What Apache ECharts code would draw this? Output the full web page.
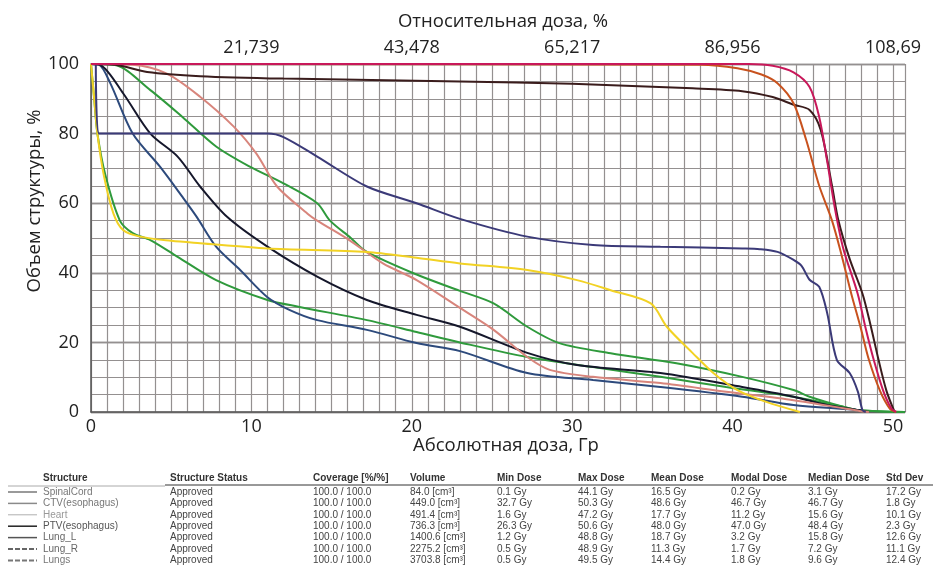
<!DOCTYPE html>
<html><head><meta charset="utf-8">
<script src="https://cdn.jsdelivr.net/npm/echarts@6/dist/echarts.min.js"></script>
<style>html,body{margin:0;padding:0;background:#fff}#c{width:933px;height:573px}</style>
</head><body><div id="c"></div>
<script>
// ---- axis ticks ----
const xTicks = [0, 10, 20, 30, 40, 50];
const topLabels = ['', '21,739', '43,478', '65,217', '86,956', '108,69'];

// ---- DVH curves [dose Gy, volume %] ----
const curveMagenta = [[0,100],[41,100],[42.5,99.5],[43.8,97.6],[44.8,93.4],[45.4,84.8],[45.9,72],[46.4,58],[46.9,47],[47.8,34],[48.3,24],[48.8,15],[49.4,6],[49.9,1],[50.2,0]];
const curveOrange = [[0,100],[38,99.8],[40.3,98.8],[41.8,97],[42.8,94.5],[43.8,88.7],[44.6,78],[45.4,65],[46.2,55],[46.8,45],[47.4,34],[48,24],[48.5,15],[49.2,6],[49.8,1],[50.2,0]];
const curveDark = [[0,100],[1.5,99.8],[3.5,97.7],[6.8,96.5],[12,95.8],[23,95],[30,94.3],[37.5,93],[40.6,92.2],[42.5,90.5],[43.8,88.3],[44.8,86.8],[45.5,81],[46.2,65],[46.6,55],[47.3,44],[48.1,34],[48.6,25],[49.1,15],[49.6,6],[50.1,0]];
const curveNavy = [[0.3,100],[0.5,80],[11,80],[12,79],[14.1,73.4],[17.2,64.8],[20.3,60],[23,55.5],[27.2,50.4],[31.3,48],[35.5,47.5],[40.6,47],[41.7,46.8],[42.8,46],[43.8,43.7],[44.3,42],[44.8,38],[45.4,36],[45.9,28.4],[46.5,15],[47.3,11.2],[47.8,6],[48.1,0.5],[48.3,0]];
const curveYellow = [[0,100],[0.2,90],[0.4,80],[0.8,68],[1.4,57],[2.0,52.3],[3.05,50.4],[5,49.2],[6.8,48.5],[11,47],[17.2,46],[20.3,44.3],[23,42.7],[27.2,40.8],[30.3,37.9],[32.4,35],[34.9,31.2],[35.9,24.5],[37.5,17],[38.8,11.2],[40.3,6.3],[42.1,2.9],[44.2,0]];
const curveGreenA = [[0,100],[1.5,99.7],[3.7,92.5],[5.7,84.8],[7.8,76.3],[9.9,70.5],[12,65.7],[14.1,60],[14.9,55],[16.2,50],[17.2,46],[20.3,39.5],[23,34.8],[25.1,31.2],[27.2,24.5],[29.2,19.8],[32.4,16.9],[36.5,14],[40.6,10.1],[43.8,6.3],[44.8,4.4],[46.9,1.5],[47.9,0.5],[50.75,0]];
const curveGreenB = [[0,100],[0.2,90],[0.4,80],[0.9,68],[1.8,55],[2.6,51.4],[3.7,49.4],[5.4,44.6],[7.8,37.9],[11,32.2],[13,30.2],[17.2,26.4],[20.3,23],[23,20],[27.2,15.8],[31.3,12.9],[35.5,10.1],[39.6,7.2],[43.8,4.4],[46.9,1.5],[47.9,0.5],[50.75,0]];
const curvePink = [[0,100],[2.6,99.8],[4.7,97.3],[6.8,90.6],[8.9,82],[10.3,74.3],[11.6,64.8],[13.5,57],[14.1,55],[16.1,49.4],[18.2,42.7],[20.3,37.9],[23,29.9],[25.1,23.6],[27.2,15.8],[28.6,12.1],[31.3,10.1],[35.5,8.3],[39.6,5.8],[43.8,3.4],[46.9,1.1],[47.9,0.3],[48.5,0]];
const curveBlack = [[0,100],[0.6,99.7],[2.0,91.6],[3.7,80],[5.4,73.4],[6.8,64.8],[8.5,56],[11,47.5],[14.1,38.9],[17.2,32.2],[20.3,27.9],[23,24.5],[27.2,17],[30.3,13.5],[35.5,11.2],[40.6,7.2],[43.8,4.4],[45.9,2],[47.9,0.5],[48.5,0]];
const curveBlue = [[0,100],[0.5,99.8],[1.2,94.5],[2.6,80],[4.3,70.5],[5.7,61.8],[6.6,56],[7.8,47.5],[9.3,40.8],[11,33],[12.4,29.3],[14.1,26.4],[17.2,23.6],[20.3,19.8],[23,17.5],[27.2,11.2],[31.3,9.2],[35.5,7.2],[40.6,4.4],[43.8,2],[47.9,0.5],[48.3,0]];

// ---- statistics table ----
const headers = ['Structure','Structure Status','Coverage [%/%]','Volume','Min Dose','Max Dose','Mean Dose','Modal Dose','Median Dose','Std Dev'];
const structures = ['SpinalCord','CTV(esophagus)','Heart','PTV(esophagus)','Lung_L','Lung_R','Lungs'];
const statuses = ['Approved','Approved','Approved','Approved','Approved','Approved','Approved'];
const coverage = ['100.0 / 100.0','100.0 / 100.0','100.0 / 100.0','100.0 / 100.0','100.0 / 100.0','100.0 / 100.0','100.0 / 100.0'];
const volumes = [84.0, 449.0, 491.4, 736.3, 1400.6, 2275.2, 3703.8];
const minDose = [0.1, 32.7, 1.6, 26.3, 1.2, 0.5, 0.5];
const maxDose = [44.1, 50.3, 47.2, 50.6, 48.8, 48.9, 49.5];
const meanDose = [16.5, 48.6, 17.7, 48.0, 18.7, 11.3, 14.4];
const modalDose = [0.2, 46.7, 11.2, 47.0, 3.2, 1.7, 1.8];
const medianDose = [3.1, 46.7, 15.6, 48.4, 15.8, 7.2, 9.6];
const stdDev = [17.2, 1.8, 10.1, 2.3, 12.6, 11.1, 12.4];

const FONT = '"Open Sans", "Noto Sans", sans-serif';
const chart = echarts.init(document.getElementById('c'), null, {renderer: 'canvas'});

const gy = v => v.toFixed(1) + ' Gy';
const colX = [43, 170, 313, 410, 497, 578, 651, 731, 808, 886];
const rowY0 = 492, rowDy = 11.4, headerY = 478;
const nameColors = ['#777','#777','#999','#555','#666','#666','#777'];
const legendColors = ['#9a9a9a','#8a8a8a','#b0b0b0','#222222','#555555','#666666','#777777'];
const legendTypes = ['solid','solid','solid','solid','solid','dashed','dashed'];
const legendWidths = [2, 1.5, 1, 1.5, 1.5, 2, 2];

const graphics = [];
// axis titles
graphics.push({type: 'text', style: {text: 'Относительная доза, %', x: 503, y: 22, font: '18.5px ' + FONT, fill: '#222', textAlign: 'center', textVerticalAlign: 'middle'}});
graphics.push({type: 'text', style: {text: 'Абсолютная доза, Гр', x: 506, y: 446, font: '18.5px ' + FONT, fill: '#222', textAlign: 'center', textVerticalAlign: 'middle'}});
graphics.push({type: 'text', x: 35, y: 201, rotation: Math.PI / 2, style: {text: 'Объем структуры, %', x: 0, y: 0, font: '18.5px ' + FONT, fill: '#222', textAlign: 'center', textVerticalAlign: 'middle'}});

headers.forEach((h, i) => {
  graphics.push({type: 'text', style: {text: h, x: colX[i], y: headerY, font: 'bold 10px "Liberation Sans", Arial, sans-serif', fill: '#333', textVerticalAlign: 'middle'}});
});
graphics.push({type: 'line', shape: {x1: 8, y1: 486, x2: 165, y2: 486}, style: {stroke: '#aaa', lineWidth: 1}});
graphics.push({type: 'line', shape: {x1: 165, y1: 485, x2: 933, y2: 485}, style: {stroke: '#333', lineWidth: 1}});
structures.forEach((s, r) => {
  const y = rowY0 + r * rowDy;
  const cells = [s, statuses[r], coverage[r], volumes[r].toFixed(1) + ' [cm³]', gy(minDose[r]), gy(maxDose[r]), gy(meanDose[r]), gy(modalDose[r]), gy(medianDose[r]), gy(stdDev[r])];
  cells.forEach((t, i) => {
    graphics.push({type: 'text', style: {text: t, x: colX[i], y: y, font: '10px "Liberation Sans", Arial, sans-serif', fill: i === 0 ? nameColors[r] : '#444', textVerticalAlign: 'middle'}});
  });
  graphics.push({type: 'line', shape: {x1: 8, y1: y, x2: 37, y2: y}, style: {stroke: legendColors[r], lineWidth: legendWidths[r], lineDash: legendTypes[r] === 'dashed' ? [5, 2] : null}});
});

const mk = (name, data, color, w) => ({
  name, type: 'line', data, xAxisIndex: 0, yAxisIndex: 0,
  showSymbol: false, symbol: 'none', smooth: 0.3,
  lineStyle: {color, width: w || 2}, itemStyle: {color}, silent: true, animation: false
});

const option = {
  backgroundColor: '#fff',
  animation: false,
  grid: {left: 91, right: 28, top: 64, bottom: 161, containLabel: false, outerBoundsMode: 'none'},
  xAxis: [
    {type: 'value', position: 'bottom', min: 0, max: 50.75, interval: 10,
     axisLine: {show: true, onZero: false, lineStyle: {color: '#555', width: 1.5}},
     axisTick: {show: false},
     axisLabel: {formatter: v => xTicks.indexOf(v) >= 0 ? String(v) : '', fontSize: 18, color: '#222', fontFamily: FONT, margin: 6}},
    {type: 'value', position: 'top', min: 0, max: 50.75, interval: 10,
     axisLine: {show: false}, axisTick: {show: false},
     axisLabel: {formatter: v => { const k = xTicks.indexOf(v); return k >= 0 ? topLabels[k] : ''; }, fontSize: 18, color: '#222', fontFamily: FONT, margin: 7},
     splitLine: {show: false}},
    {type: 'value', position: 'bottom', min: 0, max: 50.75, interval: 1,
     axisLine: {show: false}, axisTick: {show: false}, axisLabel: {show: false},
     splitLine: {show: true, lineStyle: {color: '#949090', width: 1.2}}, z: 0}
  ],
  yAxis: [
    {type: 'value', position: 'left', min: 0, max: 100, interval: 20,
     axisLine: {show: true, lineStyle: {color: '#555', width: 1.5}},
     axisTick: {show: false},
     axisLabel: {fontSize: 18, color: '#222', fontFamily: FONT, margin: 12},
     splitLine: {show: true, lineStyle: {color: '#454040', width: 1.4}}},
    {type: 'value', position: 'right', min: 0, max: 100, interval: 5,
     axisLine: {show: false}, axisTick: {show: false}, axisLabel: {show: false},
     splitLine: {show: true, lineStyle: {color: '#949090', width: 1.2}}, z: 0}
  ],
  series: [
    mk('GreenB', curveGreenB, '#2f9a3c'),
    mk('GreenA', curveGreenA, '#2f9a3c'),
    mk('Blue', curveBlue, '#2d4a7c'),
    mk('Black', curveBlack, '#15172b'),
    mk('Pink', curvePink, '#d8857c'),
    mk('Yellow', curveYellow, '#f2d224'),
    mk('Navy', curveNavy, '#3b3a78'),
    mk('Dark', curveDark, '#3a1c1c'),
    mk('Orange', curveOrange, '#c8521e'),
    mk('Magenta', curveMagenta, '#c8185a')
  ],
  graphic: {elements: graphics}
};
chart.setOption(option);
</script>
</body></html>
